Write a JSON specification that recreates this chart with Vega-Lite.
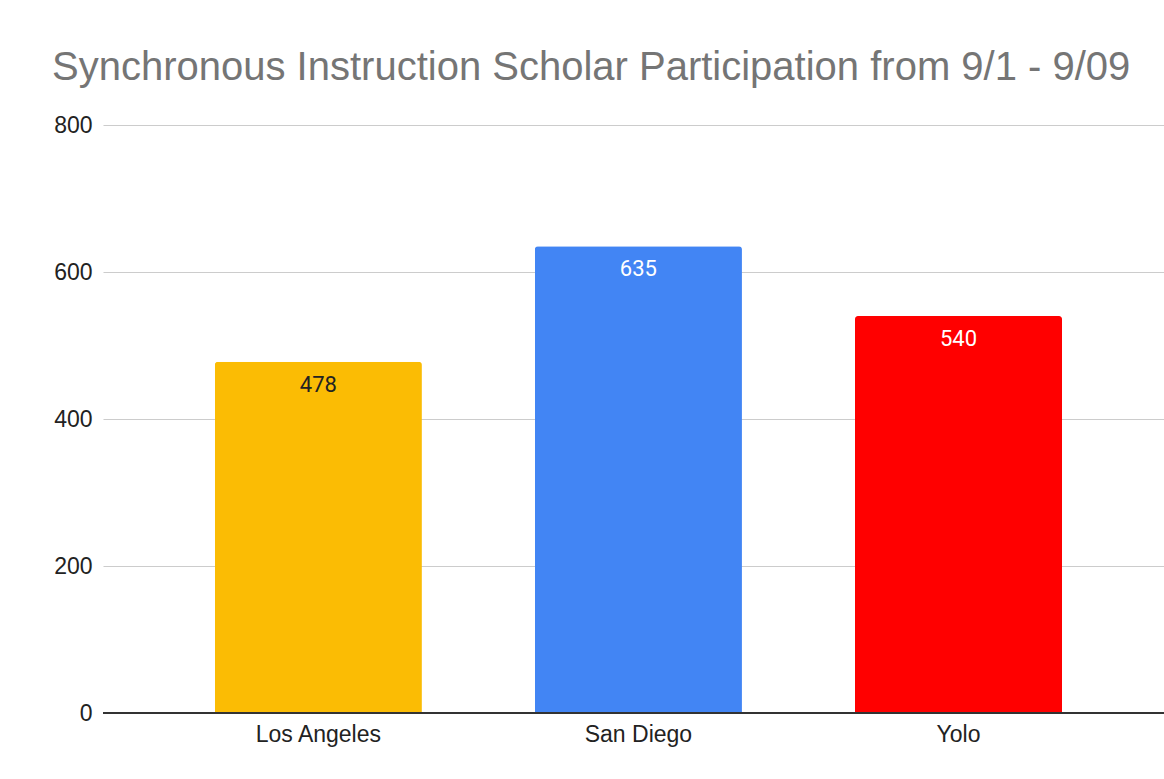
{
  "$schema": "https://vega.github.io/schema/vega-lite/v6.json",
  "autosize": {"type": "none"},
  "width": 1061,
  "height": 588,
  "padding": {"left": 103, "top": 125, "right": 0, "bottom": 66},
  "background": "#ffffff",
  "title": {
    "text": "Synchronous Instruction Scholar Participation from 9/1 - 9/09",
    "anchor": "start",
    "frame": "group",
    "dx": -51,
    "offset": 26,
    "font": "Liberation Sans",
    "fontSize": 40,
    "fontWeight": "normal",
    "color": "#757575"
  },
  "config": {
    "view": {"stroke": null},
    "axis": {"labelFont": "Liberation Sans", "labelFontSize": 23, "labelColor": "#222222", "titleFont": "Liberation Sans"}
  },
  "data": {
    "values": [
      {"city": "Los Angeles", "participation": 478},
      {"city": "San Diego", "participation": 635},
      {"city": "Yolo", "participation": 540}
    ]
  },
  "encoding": {
    "x": {
      "field": "city",
      "type": "nominal",
      "sort": null,
      "title": null,
      "scale": {"paddingInner": 0.353, "paddingOuter": 0.334, "align": 0.523},
      "axis": {"labelAngle": 0, "ticks": false, "domain": false, "labelPadding": 10, "grid": false}
    },
    "y": {
      "field": "participation",
      "type": "quantitative",
      "title": null,
      "scale": {"domain": [0, 800], "nice": false},
      "axis": {"values": [0, 200, 400, 600, 800], "ticks": false, "domain": false, "labelPadding": 11, "gridColor": "#cccccc", "gridWidth": 1.2}
    }
  },
  "layer": [
    {
      "mark": {"type": "bar", "cornerRadiusTopLeft": 3, "cornerRadiusTopRight": 3},
      "encoding": {
        "color": {
          "field": "city",
          "type": "nominal",
          "legend": null,
          "scale": {"domain": ["Los Angeles", "San Diego", "Yolo"], "range": ["#FBBC04", "#4285F4", "#FF0000"]}
        }
      }
    },
    {
      "mark": {"type": "rule", "color": "#333333", "strokeWidth": 2},
      "encoding": {
        "y": {"datum": 0, "type": "quantitative"},
        "x": null
      }
    },
    {
      "mark": {"type": "text", "baseline": "middle", "dy": 23, "font": "Roboto", "fontSize": 22, "fontWeight": "normal"},
      "encoding": {
        "text": {"field": "participation", "type": "quantitative"},
        "color": {
          "condition": {"test": "datum.city == 'Los Angeles'", "value": "#222222"},
          "value": "#ffffff"
        }
      }
    }
  ]
}
